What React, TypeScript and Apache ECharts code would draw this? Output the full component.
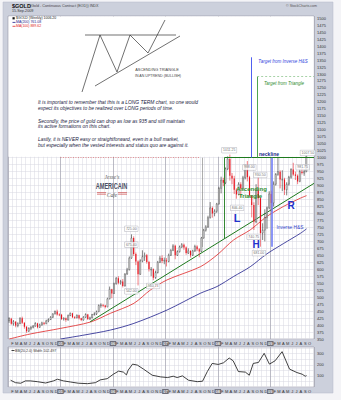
import React, { useEffect, useRef } from 'react';
import * as echarts from 'echarts';

// Half-month bars [open, close, low, high] read from the weekly $GOLD chart
const ohlc2004 = [
  [416, 423, 408, 428], [423, 405, 401, 426], [405, 412, 398, 418], [412, 398, 392, 414],
  [398, 405, 392, 410], [405, 424, 403, 428], [424, 408, 404, 430], [408, 394, 387, 410],
  [394, 378, 372, 396], [378, 388, 375, 392], [388, 392, 382, 396], [392, 396, 388, 400],
  [396, 406, 394, 410], [406, 392, 388, 408], [392, 400, 390, 405], [400, 408, 398, 412],
  [408, 405, 400, 410], [405, 415, 403, 419], [415, 420, 410, 424], [420, 428, 418, 432],
  [428, 440, 425, 442], [440, 449, 438, 452], [449, 438, 434, 455], [438, 437, 432, 442],
];
const ohlc2005 = [
  [437, 422, 418, 440], [422, 424, 416, 428], [424, 418, 412, 427], [418, 434, 416, 438],
  [434, 442, 432, 445], [442, 428, 425, 444], [428, 426, 422, 432], [426, 435, 424, 438],
  [435, 424, 420, 437], [424, 418, 414, 426], [418, 428, 416, 432], [428, 438, 426, 442],
  [438, 422, 418, 440], [422, 426, 418, 430], [426, 438, 424, 440], [438, 440, 434, 446],
  [440, 448, 436, 452], [448, 470, 446, 474], [470, 472, 462, 478], [472, 470, 464, 476],
  [470, 465, 460, 472], [465, 494, 464, 498], [494, 528, 492, 538], [528, 513, 496, 530],
];
const ohlc2006 = [
  [513, 548, 512, 552], [548, 568, 545, 572], [568, 552, 546, 575], [552, 556, 545, 562],
  [556, 540, 535, 565], [540, 583, 538, 586], [583, 598, 580, 605], [598, 640, 596, 646],
  [640, 712, 638, 725], [712, 655, 648, 718], [655, 628, 615, 660], [628, 582, 542, 632],
  [582, 630, 580, 636], [630, 645, 625, 668], [645, 650, 630, 660], [650, 626, 620, 655],
  [626, 600, 592, 630], [600, 600, 575, 608], [600, 570, 560.75, 603], [570, 588, 566, 595],
  [588, 625, 585, 630], [625, 640, 622, 648], [640, 630, 622, 650], [630, 632, 618, 642],
];
const ohlc2007 = [
  [632, 628, 610, 640], [628, 650, 625, 656], [650, 668, 648, 672], [668, 684, 665, 690],
  [684, 650, 636, 688], [650, 663, 648, 668], [663, 680, 660, 685], [680, 688, 676, 694],
  [688, 678, 670, 692], [678, 658, 652, 682], [658, 666, 655, 675], [666, 650, 642, 668],
  [650, 666, 648, 670], [666, 682, 662, 688], [682, 672, 665, 686], [672, 664, 643, 676],
  [664, 712, 662, 716], [712, 740, 710, 745], [740, 752, 735, 758], [752, 785, 748, 792],
  [785, 820, 782, 841], [820, 800, 785, 825], [800, 808, 790, 815], [808, 834, 802, 838],
];
const ohlc2008 = [
  [834, 890, 832, 896], [890, 920, 872, 932], [920, 910, 898, 928], [910, 960, 905, 965],
  [960, 995, 955, 1005], [995, 935, 918, 1011.25], [935, 925, 905, 945], [925, 885, 870, 935],
  [885, 868, 853, 890], [868, 905, 865, 912], [905, 890, 860, 912], [890, 928, 885, 935],
  [928, 960, 922, 975], [960, 930, 915, 988], [930, 865, 860, 935], [865, 830, 786, 840],
  [830, 770, 740.75, 840], [770, 885, 765, 905], [885, 855, 830, 930.5], [855, 730, 681, 858],
  [730, 740, 705, 765], [740, 785, 700, 815], [785, 820, 745, 825], [820, 870, 815, 880],
];
const ohlc2009 = [
  [870, 838, 805, 882], [838, 905, 825, 915], [905, 940, 900, 945], [940, 950, 935, 1003.5],
  [950, 922, 890, 955], [922, 922, 880, 955], [922, 885, 866, 928], [885, 905, 865, 912],
  [905, 930, 900, 935], [930, 958, 925, 962], [958, 940, 935, 981.75], [940, 935, 920, 950],
  [935, 915, 905, 940], [915, 950, 912, 958], [950, 945, 940, 962], [945, 950, 935, 958],
  [950, 1005, 948, 1007.5],
];

// Moving averages [month index since Jan-2004, value]
const ma100 = [
  [0.3, 350], [5.1, 368], [12, 388], [18.9, 411], [23.4, 442], [28.8, 478], [32.6, 526],
  [36.4, 562], [44, 609], [47.8, 651], [51.6, 705], [55.4, 741], [59.2, 789], [63, 825],
  [66.9, 855], [68.3, 864],
];
const ma200 = [
  [12, 350], [17, 363], [23.4, 382], [28.8, 406], [36.4, 454], [44, 514], [47.8, 538],
  [51.6, 574], [55.4, 609], [59.2, 655], [63, 692], [66.9, 729], [68.3, 745],
];

// Lower panel indicator
const bbWidth = [
  [0.6, 61], [1.7, 39], [2.9, 34], [4, 55], [5.1, 55], [6.7, 48], [8.6, 36], [10.4, 55],
  [11.3, 70], [12.7, 55], [14.3, 45], [16.1, 34], [18.2, 30], [20, 39], [21.1, 64], [22.7, 75],
  [24.1, 115], [25.3, 143], [26.4, 134], [27.1, 109], [27.5, 152], [28.5, 206], [29.6, 197],
  [31, 161], [33, 106], [34.9, 91], [36.5, 85], [37.8, 97], [38.7, 85], [39.9, 100], [41.3, 61],
  [43.3, 48], [44.5, 52], [45.6, 139], [46.7, 212], [48.1, 203], [49.3, 218], [50.6, 261],
  [51.5, 236], [52.7, 139], [54.3, 134], [55.2, 106], [56.1, 212], [57.3, 221], [58.6, 303],
  [59.8, 206], [61.1, 236], [62.7, 318], [64.4, 161], [66.1, 130], [67.3, 115], [68, 97],
  [68.3, 102.5],
];

// Price annotation boxes [text, month index, value]
const priceLabels: [string, number, number][] = [
  ['725.00', 28.2, 745], ['675.40', 28.2, 688], ['542.00', 28.2, 521], ['560.75', 33.2, 540],
  ['1011.25', 50.6, 1027], ['988.00', 55.2, 965], ['930.50', 57.7, 938], ['846.40', 52.4, 820],
  ['740.75', 56.2, 716], ['681.00', 57.4, 658], ['1007.50', 68.6, 1017], ['981.75', 67.4, 966],
];

// Drawn analysis lines in data units [month, value]
const trendLine = [[18.8, 412], [70, 908]];
const triangleTop = [[49.5, 1000], [70, 1000]];
const triangleDepth = [[49.5, 709], [49.5, 1000]];
const triangleTarget = [[57, 1000], [57, 1290]];
const triangleTargetLevel = [[57, 1292], [70, 1292]];
const hsDepth = [[60.4, 681], [60.4, 1000]];
const hsTarget = [[55.6, 1000], [55.6, 1360]];
const breakoutLine = [[44.4, 680], [44.4, 1000]];
const oldHighLine = [[12, 1000], [44, 1000]];

const monthLetters = ['J', 'F', 'M', 'A', 'M', 'J', 'J', 'A', 'S', 'O', 'N', 'D'];
const yearLabels = ['04', '05', '06', '07', '08', '09'];

const FONT = '"Liberation Sans", Arial, sans-serif';

function monthFormatter(v: number) {
  const m = Math.round(v);
  if (m <= 0 || m >= 70) return '';
  const mi = m % 12;
  if (mi === 0) return `{yr|${yearLabels[m / 12]}}`;
  return monthLetters[mi];
}

function txt(text: string, x: number, y: number, o: any = {}) {
  return {
    type: 'text',
    x,
    y,
    z: 10,
    silent: true,
    scaleX: o.scaleX ?? 1,
    style: {
      text,
      fill: o.fill ?? '#222',
      fontSize: o.size ?? 4,
      fontFamily: o.family ?? FONT,
      fontStyle: o.italic ? 'italic' : 'normal',
      fontWeight: o.bold ? 'bold' : 'normal',
      align: o.align ?? 'left',
      textAlign: o.align ?? 'left',
      verticalAlign: 'middle',
      textVerticalAlign: 'middle',
    },
  };
}
function seg(x1: number, y1: number, x2: number, y2: number, stroke: string, w = 0.8) {
  return { type: 'line', z: 10, silent: true, shape: { x1, y1, x2, y2 }, style: { stroke, lineWidth: w } };
}

const App: React.FC = () => {
  const ref = useRef<HTMLDivElement>(null);

  useEffect(() => {
    if (!ref.current) return;
    const chart = echarts.init(ref.current, null, { renderer: 'svg' });

    const allBars = [...ohlc2004, ...ohlc2005, ...ohlc2006, ...ohlc2007, ...ohlc2008, ...ohlc2009];
    const candleData = allBars.map((b, i) => [i * 0.5 + 0.25, b[0], b[1], b[2], b[3]]);

    const mk = (pts: number[][], color: string, width: number, type: any = 'solid') => [
      { coord: pts[0], lineStyle: { color, width, type } },
      { coord: pts[1] },
    ];

    const monthAxis = (gridIndex: number) => ({
      type: 'value',
      gridIndex,
      min: 0,
      max: 70,
      interval: 1,
      position: 'bottom',
      axisLine: { show: false },
      axisTick: { show: false },
      axisLabel: {
        formatter: monthFormatter,
        fontSize: 4,
        fontFamily: FONT,
        color: '#333',
        margin: 2,
        rich: {
          yr: { backgroundColor: '#6e6e7a', color: '#eee', fontSize: 4, fontWeight: 'bold', padding: [0.5, 1] },
        },
      },
      splitLine: { show: true, lineStyle: { color: '#d6d7e0', width: 0.5 } },
    });
    const yearAxis = (gridIndex: number) => ({
      type: 'value',
      gridIndex,
      min: 0,
      max: 70,
      interval: 12,
      position: 'top',
      axisLine: { show: false },
      axisTick: { show: false },
      axisLabel: { show: false },
      splitLine: { show: true, lineStyle: { color: '#9a9aa8', width: 0.6 } },
    });

    const option: any = {
      animation: false,
      backgroundColor: '#f4f4f7',
      grid: [
        { left: 8, top: 16, width: 306, height: 323, show: true, backgroundColor: '#ffffff', borderColor: '#8a8a98', borderWidth: 0.5 },
        { left: 8, top: 347, width: 306, height: 40, show: true, backgroundColor: '#ffffff', borderColor: '#8a8a98', borderWidth: 0.5 },
      ],
      xAxis: [monthAxis(0), monthAxis(1), yearAxis(0), yearAxis(1)],
      yAxis: [
        {
          type: 'value',
          gridIndex: 0,
          min: 350,
          max: 1508,
          interval: 25,
          position: 'right',
          axisLine: { show: false },
          axisTick: { show: false },
          axisLabel: {
            fontSize: 4,
            fontFamily: FONT,
            color: '#333',
            margin: 3,
            formatter: (v: number) => (v % 25 === 0 && v <= 1500 ? String(v) : ''),
          },
          splitLine: { show: true, lineStyle: { color: '#d6d7e0', width: 0.5 } },
        },
        {
          type: 'value',
          gridIndex: 1,
          min: 0,
          max: 360,
          interval: 50,
          position: 'right',
          axisLine: { show: false },
          axisTick: { show: false },
          axisLabel: {
            fontSize: 4,
            fontFamily: FONT,
            color: '#333',
            margin: 3,
            formatter: (v: number) => (v === 100 || v === 200 || v === 300 ? String(v) : ''),
          },
          splitLine: { show: true, lineStyle: { color: '#d6d7e0', width: 0.5 } },
        },
      ],
      series: [
        {
          type: 'line',
          name: 'MA(200)',
          xAxisIndex: 0,
          yAxisIndex: 0,
          data: ma200,
          smooth: 0.3,
          symbol: 'none',
          z: 2,
          lineStyle: { color: '#1c1c8a', width: 0.8 },
        },
        {
          type: 'line',
          name: 'MA(100)',
          xAxisIndex: 0,
          yAxisIndex: 0,
          data: ma100,
          smooth: 0.3,
          symbol: 'none',
          z: 2,
          lineStyle: { color: '#e02424', width: 0.8 },
        },
        {
          type: 'line',
          name: 'trend',
          xAxisIndex: 0,
          yAxisIndex: 0,
          data: trendLine,
          symbol: 'none',
          z: 3,
          lineStyle: { color: '#1d7a1d', width: 1 },
          markLine: {
            silent: true,
            symbol: ['none', 'none'],
            label: { show: false },
            data: [
              mk(triangleTop, '#1d7a1d', 1),
              mk(triangleDepth, '#1d7a1d', 0.9),
              mk(triangleTarget, '#3c9a3c', 0.9),
              mk(triangleTargetLevel, '#6bb36b', 0.6, [2, 2]),
              mk(hsDepth, '#6f7cf5', 1.6),
              mk(hsTarget, '#5060f0', 1),
              mk(breakoutLine, '#8a8a8a', 0.7),
              mk(oldHighLine, '#e05050', 0.6, [1, 1.5]),
            ],
          },
        },
        {
          type: 'custom',
          name: 'GOLD',
          xAxisIndex: 0,
          yAxisIndex: 0,
          z: 4,
          encode: { x: 0, y: [1, 2, 3, 4] },
          data: candleData,
          renderItem: (params: any, api: any) => {
            const x = api.value(0);
            const o = api.value(1);
            const c = api.value(2);
            const l = api.value(3);
            const h = api.value(4);
            const pH = api.coord([x, h]);
            const pL = api.coord([x, l]);
            const pO = api.coord([x, o]);
            const pC = api.coord([x, c]);
            const up = c >= o;
            const color = up ? '#1a1a1a' : '#e8121c';
            const w = 1.1;
            const top = Math.min(pO[1], pC[1]);
            const hh = Math.max(0.7, Math.abs(pO[1] - pC[1]));
            return {
              type: 'group',
              children: [
                { type: 'line', shape: { x1: pH[0], y1: pH[1], x2: pL[0], y2: pL[1] }, style: { stroke: color, lineWidth: 0.55 } },
                {
                  type: 'rect',
                  shape: { x: pO[0] - w / 2, y: top, width: w, height: hh },
                  style: up ? { fill: '#ffffff', stroke: color, lineWidth: 0.35 } : { fill: color },
                },
              ],
            };
          },
        },
        {
          type: 'scatter',
          name: 'labels',
          xAxisIndex: 0,
          yAxisIndex: 0,
          z: 5,
          symbolSize: 1,
          itemStyle: { color: 'transparent' },
          data: priceLabels.map(([t, m, v]) => ({ value: [m, v], label: { formatter: t } })),
          label: {
            show: true,
            position: 'inside',
            fontSize: 3.5,
            fontFamily: FONT,
            color: '#444',
            backgroundColor: '#ffffff',
            borderColor: '#9a9aa6',
            borderWidth: 0.4,
            padding: [0.6, 1.2],
          },
        },
        {
          type: 'line',
          name: 'BB Width',
          xAxisIndex: 1,
          yAxisIndex: 1,
          data: bbWidth,
          symbol: 'none',
          lineStyle: { color: '#111', width: 0.8 },
        },
      ],
      graphic: [
        { type: 'rect', z: -10, silent: true, shape: { x: 3, y: 2, width: 330, height: 391 }, style: { fill: '#ccd0dc', stroke: '#b4b8c8', lineWidth: 0.5 } },
        { type: 'rect', z: 1, silent: true, shape: { x: 8.4, y: 16.4, width: 305.2, height: 140.4 }, style: { fill: '#ffffff' } },
        // header
        txt('$GOLD', 12, 6.3, { size: 5.5, bold: true, fill: '#111' }),
        txt('(Gold - Continuous Contract (EOD)) INDX', 30, 6.3, { size: 3.7, fill: '#444' }),
        txt('15-Sep-2009', 12, 11, { size: 3.7, fill: '#333' }),
        txt('© StockCharts.com', 317, 6, { size: 3.6, fill: '#555', align: 'right' }),
        // legend
        { type: 'rect', z: 10, silent: true, shape: { x: 12.5, y: 17.2, width: 2.2, height: 2.2 }, style: { fill: '#111' } },
        txt('$GOLD (Weekly) 1006.20', 16, 18.4, { size: 3.5, fill: '#222' }),
        seg(12.5, 22.4, 15.5, 22.4, '#1c1c8a', 0.8),
        txt('MA(200) 761.08', 16, 22.4, { size: 3.5, fill: '#1c1c8a' }),
        seg(12.5, 26.3, 15.5, 26.3, '#e02424', 0.8),
        txt('MA(100) 889.62', 16, 26.3, { size: 3.5, fill: '#e02424' }),
        // schematic ascending triangle
        seg(85, 35, 176, 35, '#333', 0.7),
        seg(95, 86, 180, 36, '#333', 0.7),
        {
          type: 'polyline',
          z: 10,
          silent: true,
          shape: { points: [[82, 92], [100, 35], [117, 72], [130, 35], [148, 53], [165, 20]] },
          style: { stroke: '#333', lineWidth: 0.7, fill: 'none' },
        },
        txt('ASCENDING TRIANGLE', 157, 69.5, { size: 3.9, fill: '#444', align: 'center' }),
        txt('IN AN UPTREND (BULLISH)', 158, 75.8, { size: 3.6, fill: '#444', align: 'center' }),
        // commentary
        txt('It is important to remember that this is a LONG TERM chart, so one would', 38, 102.7, { size: 4.9, italic: true, fill: '#1a1a40' }),
        txt('expect its objectives to be realized over LONG periods of time.', 38, 108.3, { size: 4.9, italic: true, fill: '#1a1a40' }),
        txt('Secondly, the price of gold can drop as low as 935 and still maintain', 38, 121, { size: 4.9, italic: true, fill: '#1a1a40' }),
        txt('its active formations on this chart.', 38, 126.7, { size: 4.9, italic: true, fill: '#1a1a40' }),
        txt('Lastly, it is NEVER easy or straightforward, even in a bull market,', 38, 139, { size: 4.9, italic: true, fill: '#1a1a40' }),
        txt('but especially when the vested interests and status quo are against it.', 38, 145.3, { size: 4.9, italic: true, fill: '#1a1a40' }),
        // targets
        txt('Target from Inverse H&S', 283, 61, { size: 4.5, italic: true, fill: '#3344dd', align: 'center' }),
        txt('Target from Triangle', 284, 83, { size: 4.5, italic: true, fill: '#2e8b2e', align: 'center' }),
        txt('neckline', 269, 153.6, { size: 5, bold: true, fill: '#1a2a8a', align: 'center' }),
        // pattern labels
        txt('Ascending', 251.5, 188.5, { size: 6, bold: true, fill: '#2f8f2f', align: 'center' }),
        txt('Triangle', 250.5, 196, { size: 6, bold: true, fill: '#2f8f2f', align: 'center' }),
        txt('L', 237, 217.5, { size: 11, bold: true, fill: '#2233cc', align: 'center' }),
        txt('H', 256, 244.5, { size: 10, bold: true, fill: '#2233cc', align: 'center' }),
        txt('R', 291, 205, { size: 10, bold: true, fill: '#2233cc', align: 'center' }),
        txt('Inverse H&S', 290, 227.5, { size: 4.8, fill: '#3344cc', align: 'center' }),
        // logo
        txt("Jesse's", 112, 177, { size: 5.5, italic: true, family: 'serif', fill: '#666', align: 'center' }),
        txt('AMERICAIN', 111.5, 185.5, { size: 9, bold: true, fill: '#4a5064', align: 'center', scaleX: 0.62 }),
        txt('Cafe', 112, 195, { size: 5.5, italic: true, family: 'serif', fill: '#555', align: 'center' }),
        seg(97, 192.6, 106, 192.6, '#c83232', 0.6),
        seg(97, 194.2, 106, 194.2, '#c83232', 0.6),
        seg(118, 192.6, 127, 192.6, '#c83232', 0.6),
        seg(118, 194.2, 127, 194.2, '#c83232', 0.6),
        // lower panel legend
        seg(11.5, 350.5, 14.5, 350.5, '#111', 0.8),
        txt('BB(20,2.0) Width 102.497', 15, 350.5, { size: 3.6, fill: '#333' }),
      ],
    };

    chart.setOption(option);
    return () => chart.dispose();
  }, []);

  return <div ref={ref} style={{ position: 'absolute', left: 0, top: 0, width: 341, height: 400 }} />;
};

export default App;
